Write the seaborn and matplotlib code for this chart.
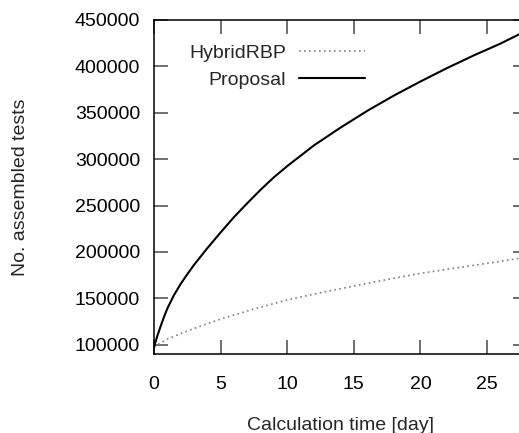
import matplotlib
matplotlib.use("Agg")
import matplotlib.pyplot as plt
import seaborn as sns
import pandas as pd

# ---- data ----
proposal_days = [0, 0.25, 0.5, 0.75, 1, 1.5, 2, 2.5, 3, 4, 5, 6, 7, 8, 9, 10, 12, 14, 16, 18, 20, 22, 24, 26, 27.4]
proposal_tests = [97500, 109500, 120000, 130000, 139000, 153500, 165500, 176000, 186000,
                  204000, 221000, 237500, 252500, 267000, 280500, 292500, 314800, 334000,
                  352000, 368500, 383700, 398200, 411800, 424500, 434500]

hybrid_days = [0, 0.5, 1, 2, 3, 5, 7.5, 10, 12.5, 15, 17.5, 20, 22.5, 25, 27.4]
hybrid_tests = [97500, 102000, 106000, 112000, 117500, 127600, 138500, 148300, 156000,
                163300, 170300, 176900, 182400, 187700, 193000]

x_ticks = [0, 5, 10, 15, 20, 25]
y_ticks = [100000, 150000, 200000, 250000, 300000, 350000, 400000, 450000]
y_tick_labels = [str(v) for v in y_ticks]

df_p = pd.DataFrame({"day": proposal_days, "tests": proposal_tests})
df_h = pd.DataFrame({"day": hybrid_days, "tests": hybrid_tests})

sns.set_style("ticks")
plt.rcParams["font.family"] = ["Liberation Sans", "DejaVu Sans"]

W, H = 519, 433
fig = plt.figure(figsize=(W / 100, H / 100), dpi=100)
left, right, top, bottom = 154, 527, 20, 354
ax = fig.add_axes([left / W, 1 - bottom / H, (right - left) / W, (bottom - top) / H])

sns.lineplot(data=df_h, x="day", y="tests", ax=ax, color="#808080",
             linestyle=(0, (1, 2)), linewidth=1.2, label="HybridRBP")
sns.lineplot(data=df_p, x="day", y="tests", ax=ax, color="black",
             linestyle="-", linewidth=1.5, label="Proposal")

ax.set_xlim(0, 28)
ax.set_ylim(90000, 450000)
ax.set_xticks(x_ticks)
ax.set_xticklabels([str(t) for t in x_ticks])
ax.set_yticks(y_ticks)
ax.set_yticklabels(y_tick_labels)

for s in ax.spines.values():
    s.set_visible(True)
    s.set_linewidth(1.1)
    s.set_color("black")

FS = 14
ax.tick_params(direction="in", top=True, right=True, length=10, width=1.2,
               color="#555555", labelsize=FS, labelcolor="black")
ax.tick_params(axis="x", pad=16)
ax.tick_params(axis="y", pad=10)

ax.set_xlabel("Calculation time [day]", fontsize=FS, labelpad=17)
ax.set_ylabel("No. assembled tests", fontsize=FS, labelpad=33)

leg = ax.legend(loc="upper right", bbox_to_anchor=((365 - left) / (right - left), 0.928),
                frameon=False, markerfirst=False, fontsize=FS, handlelength=3.4,
                handletextpad=0.67, labelspacing=0.5, borderpad=0, borderaxespad=0)

fig.savefig("out.png", dpi=100)
